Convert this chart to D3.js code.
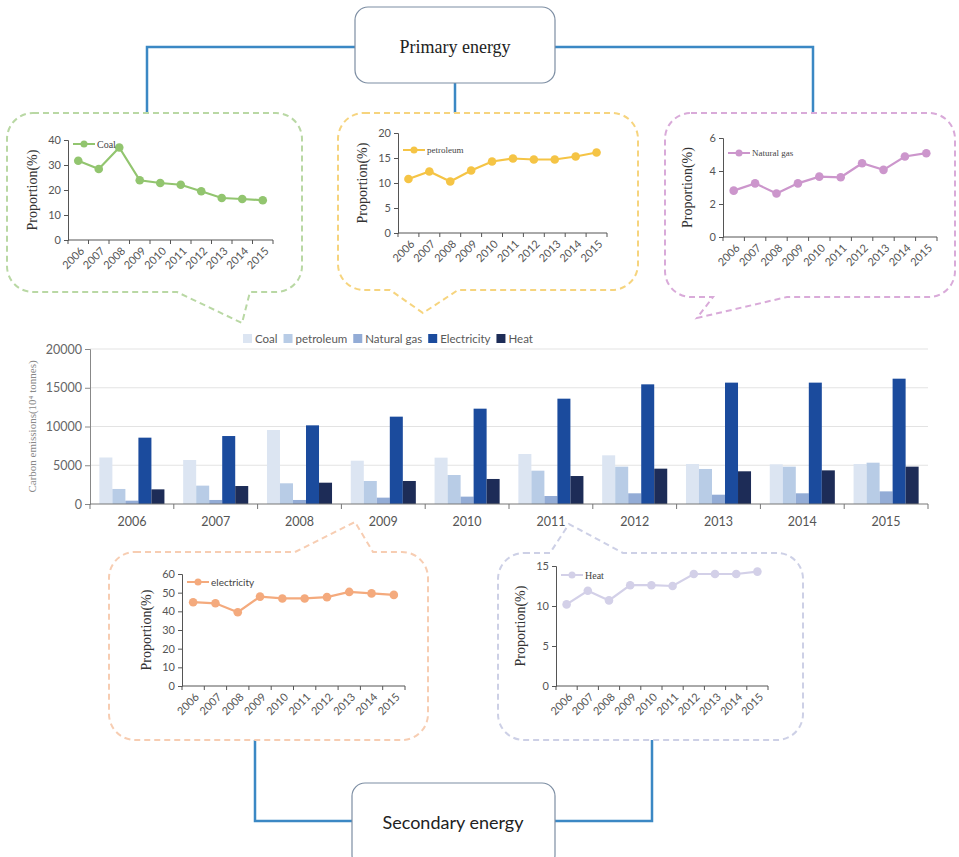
<!DOCTYPE html>
<html><head><meta charset="utf-8">
<script src="https://cdn.jsdelivr.net/npm/d3@7"></script>
<style>body{margin:0;background:#fff}svg{display:block}</style>
</head><body>
<svg id="c" width="959" height="857"></svg>
<script>
// ---------- DATA ----------
const years = ["2006","2007","2008","2009","2010","2011","2012","2013","2014","2015"];
const seriesNames = ["Coal","petroleum","Natural gas","Electricity","Heat"];
// carbon emissions (10^4 tonnes)
const coalEm        = [6000,5680,9550,5590,5980,6450,6280,5160,5120,5160];
const petroleumEm   = [1940,2370,2670,2970,3740,4300,4820,4520,4820,5330];
const gasEm         = [430,520,520,820,950,1030,1380,1200,1380,1630];
const electricityEm = [8560,8770,10150,11270,12300,13590,15440,15660,15660,16170];
const heatEm        = [1890,2320,2750,2970,3230,3610,4560,4220,4340,4820];
const emTicks = [0,5000,10000,15000,20000];
// proportions (%)
const coalShare        = [31.7,28.4,37.0,23.9,22.8,22.1,19.5,16.8,16.4,15.9];
const petroleumShare   = [10.8,12.3,10.3,12.5,14.3,14.9,14.7,14.7,15.3,16.1];
const gasShare         = [2.81,3.25,2.64,3.25,3.66,3.62,4.47,4.07,4.88,5.08];
const electricityShare = [44.9,44.3,39.5,47.9,46.9,46.9,47.6,50.4,49.6,48.8];
const heatShare        = [10.2,11.9,10.7,12.6,12.6,12.5,14.0,14.0,14.0,14.3];
const coalTicks = [0,10,20,30,40];
const petroleumTicks = [0,5,10,15,20];
const gasTicks = [0,2,4,6];
const electricityTicks = [0,10,20,30,40,50,60];
const heatTicks = [0,5,10,15];

// ---------- DRAW ----------
const svg = d3.select("#c");
const BLUE = "#3b88c4";
const SERIF = "'Liberation Serif','Times New Roman',serif";
const SANS = "Lato,'Open Sans',sans-serif";
const fmt = d3.format("d");

// connector lines
const conn = svg.append("g").attr("fill","none").attr("stroke",BLUE).attr("stroke-width",2.5);
conn.append("path").attr("d","M147,113V47H355");
conn.append("path").attr("d","M555,47H813V113");
conn.append("path").attr("d","M455,83V113");
conn.append("path").attr("d","M255,738V821H352");
conn.append("path").attr("d","M555,821H652V740");

// title boxes
svg.append("rect").attr("x",355).attr("y",7).attr("width",200).attr("height",76).attr("rx",13)
  .attr("fill","#fff").attr("stroke","#7d8ea3").attr("stroke-width",1.2);
svg.append("text").attr("x",455).attr("y",53).attr("text-anchor","middle")
  .attr("font-family",SERIF).attr("font-size",18).attr("fill","#222").text("Primary energy");
svg.append("rect").attr("x",352).attr("y",783).attr("width",203).attr("height",85).attr("rx",13)
  .attr("fill","#fff").attr("stroke","#7d8ea3").attr("stroke-width",1.2);
svg.append("text").attr("x",453).attr("y",829).attr("text-anchor","middle")
  .attr("font-family",SANS).attr("font-size",18).attr("fill","#222").text("Secondary energy");

// bubble shapes
function bubblePath(x0,y0,x1,y1,r,side,pts){
  const p = d3.path();
  p.moveTo(x0+r,y0);
  if(side==="top") pts.forEach(q=>p.lineTo(q[0],q[1]));
  p.lineTo(x1-r,y0); p.arcTo(x1,y0,x1,y0+r,r);
  p.lineTo(x1,y1-r); p.arcTo(x1,y1,x1-r,y1,r);
  if(side==="bottom") pts.forEach(q=>p.lineTo(q[0],q[1]));
  p.lineTo(x0+r,y1); p.arcTo(x0,y1,x0,y1-r,r);
  p.lineTo(x0,y0+r); p.arcTo(x0,y0,x0+r,y0,r);
  p.closePath();
  return p.toString();
}
const bubbles = [
  {b:[7,113,302,292], side:"bottom", pts:[[250,292],[242,323],[177,292]], c:"#b9d8a4"},
  {b:[338,113,638,290], side:"bottom", pts:[[458,290],[423,313],[390,290]], c:"#f6d47e"},
  {b:[665,113,955,297], side:"bottom", pts:[[787,297],[697,318],[713,297]], c:"#d9aad9"},
  {b:[109,552,428,740], side:"top", pts:[[295,552],[355,522],[373,552]], c:"#f7cdb2"},
  {b:[498,553,803,740], side:"top", pts:[[550,553],[569,524],[623,553]], c:"#cdd0e6"}
];
svg.append("g").selectAll("path").data(bubbles).join("path")
  .attr("d",d=>bubblePath(d.b[0],d.b[1],d.b[2],d.b[3],26,d.side,d.pts))
  .attr("fill","#fff").attr("stroke",d=>d.c).attr("stroke-width",2)
  .attr("stroke-dasharray","6,4");

// small line charts
function lineChart(o){
  const g = svg.append("g");
  const x = d3.scaleBand().domain(years).range([o.x0,o.x1]);
  const y = d3.scaleLinear().domain([0,o.ticks[o.ticks.length-1]]).range([o.yb,o.yt]);
  const axc = "#555";
  const ya = g.append("g").attr("transform",`translate(${o.x0},0)`)
    .call(d3.axisLeft(y).tickValues(o.ticks).tickFormat(fmt).tickSize(4).tickPadding(3));
  const xa = g.append("g").attr("transform",`translate(0,${o.yb})`);
  xa.append("line").attr("x1",o.x0).attr("x2",o.x1).attr("stroke",axc);
  xa.selectAll("line.t").data(d3.range(11)).join("line").attr("class","t")
    .attr("x1",i=>o.x0+i*x.step()).attr("x2",i=>o.x0+i*x.step()).attr("y1",0).attr("y2",4).attr("stroke",axc);
  xa.selectAll("text").data(years).join("text")
    .attr("transform",d=>`translate(${x(d)+x.bandwidth()/2+4},${9}) rotate(-45)`)
    .attr("text-anchor","end").attr("dy","0.35em")
    .attr("font-family",SANS).attr("font-size",11).attr("fill","#555").text(d=>d);
  ya.select(".domain").attr("stroke",axc);
  ya.selectAll(".tick line").attr("stroke",axc);
  ya.selectAll(".tick text").attr("font-family",SANS).attr("font-size",11).attr("fill","#555");
  g.append("text").attr("transform",`translate(${o.x0-31},${(o.yb+o.yt)/2}) rotate(-90)`)
    .attr("text-anchor","middle").attr("font-family",SERIF).attr("font-size",14).attr("fill","#333")
    .text("Proportion(%)");
  const line = d3.line().x((d,i)=>x(years[i])+x.bandwidth()/2).y(d=>y(d));
  g.append("path").datum(o.data).attr("d",line).attr("fill","none").attr("stroke",o.c).attr("stroke-width",2.2);
  g.selectAll("circle.p").data(o.data).join("circle").attr("class","p")
    .attr("cx",(d,i)=>x(years[i])+x.bandwidth()/2).attr("cy",d=>y(d)).attr("r",4.3).attr("fill",o.c);
  const ly = o.yt+o.ly, lx = o.x0+5;
  g.append("line").attr("x1",lx).attr("x2",lx+22).attr("y1",ly).attr("y2",ly).attr("stroke",o.c).attr("stroke-width",2);
  g.append("circle").attr("cx",lx+11).attr("cy",ly).attr("r",3.5).attr("fill",o.c);
  g.append("text").attr("x",lx+24).attr("y",ly).attr("dy","0.35em")
    .attr("font-family",o.lf||SERIF).attr("font-size",o.ls||10).attr("fill","#444").text(o.name);
}
lineChart({x0:68,x1:273,yb:240,yt:140,ticks:coalTicks,data:coalShare,c:"#92c56f",name:"Coal",ly:4});
lineChart({x0:398,x1:607,yb:233,yt:133,ticks:petroleumTicks,data:petroleumShare,c:"#f5c445",name:"petroleum",ly:17,ls:9});
lineChart({x0:723,x1:937,yb:237,yt:138,ticks:gasTicks,data:gasShare,c:"#cc96cc",name:"Natural gas",ly:15,ls:9});
lineChart({x0:182,x1:405,yb:686,yt:574,ticks:electricityTicks,data:electricityShare,c:"#f4aa7d",name:"electricity",ly:8,lf:SANS,ls:10});
lineChart({x0:556,x1:768,yb:686,yt:566,ticks:heatTicks,data:heatShare,c:"#d3d0e8",name:"Heat",ly:9,ls:10});

// ---------- BAR CHART ----------
const bx0=90, bx1=928, by0=504, by1=349;
const emData = [coalEm,petroleumEm,gasEm,electricityEm,heatEm];
const barColors = ["#dce5f2","#b8cce6","#93acd6","#1b4b9d","#1d2c57"];
const X0 = d3.scaleBand().domain(years).range([bx0,bx1]);
const X1 = d3.scaleBand().domain(seriesNames).range([0,X0.bandwidth()]).paddingInner(0).paddingOuter(0.72);
const Y = d3.scaleLinear().domain([0,20000]).range([by0,by1]);
const bg = svg.append("g");
bg.selectAll("line.grid").data(emTicks.slice(1)).join("line").attr("class","grid")
  .attr("x1",bx0).attr("x2",bx1).attr("y1",d=>Y(d)).attr("y2",d=>Y(d)).attr("stroke","#e3e3e3");
years.forEach((yr,i)=>{
  bg.append("g").selectAll("rect").data(seriesNames).join("rect")
    .attr("x",s=>X0(yr)+X1(s)).attr("width",X1.bandwidth())
    .attr("y",(s,k)=>Y(emData[k][i])).attr("height",(s,k)=>by0-Y(emData[k][i]))
    .attr("fill",(s,k)=>barColors[k]);
});
const yax = bg.append("g").attr("transform",`translate(${bx0},0)`)
  .call(d3.axisLeft(Y).tickValues(emTicks).tickFormat(fmt).tickSize(5).tickPadding(3));
yax.select(".domain").attr("stroke","#888");
yax.selectAll(".tick line").attr("stroke","#888");
yax.selectAll(".tick text").attr("font-family",SANS).attr("font-size",12.5).attr("fill","#666");
bg.append("line").attr("x1",bx0).attr("x2",bx1).attr("y1",by0).attr("y2",by0).attr("stroke","#777");
bg.selectAll("line.xt").data(d3.range(11)).join("line").attr("class","xt")
  .attr("x1",i=>bx0+i*X0.step()).attr("x2",i=>bx0+i*X0.step()).attr("y1",by0).attr("y2",by0+5).attr("stroke","#777");
bg.selectAll("text.cat").data(years).join("text").attr("class","cat")
  .attr("x",d=>X0(d)+X0.bandwidth()/2).attr("y",by0+22).attr("text-anchor","middle")
  .attr("font-family",SANS).attr("font-size",12.5).attr("fill","#555").text(d=>d);
bg.append("text").attr("transform",`translate(36,${(by0+by1)/2}) rotate(-90)`)
  .attr("text-anchor","middle").attr("font-family",SERIF).attr("font-size",11).attr("fill","#888")
  .text("Carbon emissions(10⁴ tonnes)");
// legend laid out sequentially
const lg = bg.append("g");
let lx = 243;
seriesNames.forEach((s,k)=>{
  lg.append("rect").attr("x",lx).attr("y",334).attr("width",9).attr("height",9).attr("fill",barColors[k]);
  const t = lg.append("text").attr("x",lx+12).attr("y",339).attr("dy","0.35em")
    .attr("font-family",SANS).attr("font-size",11.5).attr("fill","#595959").text(s);
  lx += 12 + t.node().getComputedTextLength() + 6;
});
</script>
</body></html>
